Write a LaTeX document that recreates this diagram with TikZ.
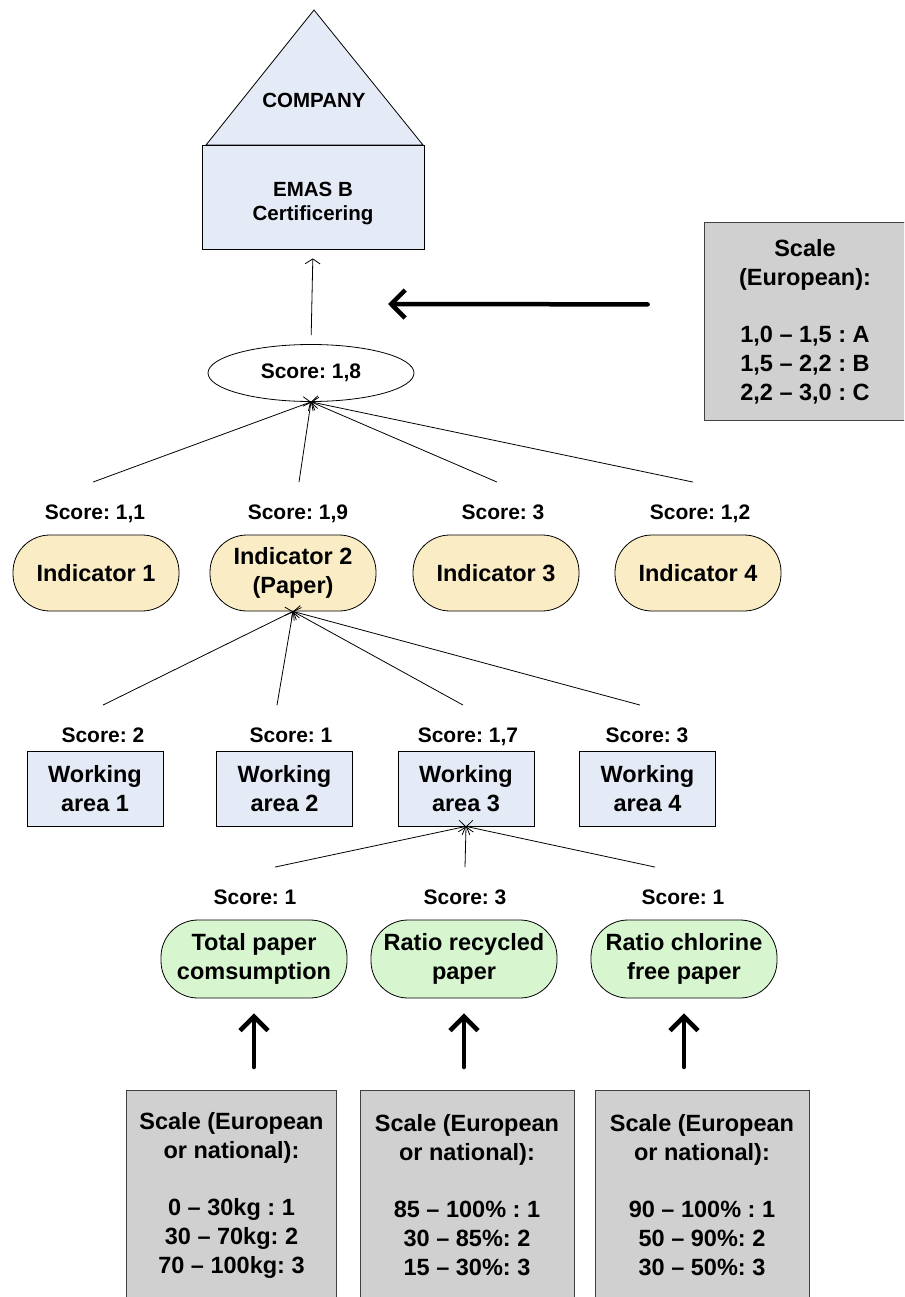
\documentclass[tikz,border=0pt]{standalone}
\usepackage{fontspec}
\setmainfont{Liberation Sans}
\frenchspacing
\usetikzlibrary{arrows.meta, shapes.geometric, positioning}
\definecolor{areablue}{RGB}{228,234,246}
\definecolor{indyellow}{RGB}{250,237,197}
\definecolor{subgreen}{RGB}{215,246,208}
\definecolor{scalegray}{RGB}{208,208,208}
\tikzset{
    score/.style={font=\bfseries\fontsize{21}{24}\selectfont, inner sep=0pt, text height=15pt, text depth=4.5pt},
    body/.style={font=\bfseries\fontsize{23.5}{29}\selectfont, align=center, inner sep=0pt},
    pill/.style={body, rectangle, draw, line width=0.8pt, rounded corners=37pt},
    indicator/.style={pill, fill=indyellow, minimum width=166pt, minimum height=76pt},
    subind/.style={pill, fill=subgreen, minimum width=186pt, minimum height=78pt},
    area/.style={body, rectangle, draw, line width=0.8pt, fill=areablue, minimum width=136pt, minimum height=75pt},
    scalebox/.style={body, rectangle, draw=black!75, line width=0.8pt, fill=scalegray, anchor=north},
    feed/.style={-{Straight Barb[length=5pt,width=15pt]}, line width=0.8pt},
    bigarrow/.style={-{Straight Barb[length=14pt,width=28pt]}, line width=4.5pt, line cap=round, line join=round}
  }

\begin{document}
\begin{tikzpicture}[x=1pt, y=-1pt]
    \useasboundingbox (0,0) rectangle (904,1297);
    \clip (0,0) rectangle (904,1297);
    % company house
    \filldraw[fill=areablue, line width=0.8pt] (206,145) -- (314,10) -- (423,145) -- cycle;
    \node (company) [font=\bfseries\fontsize{20.5}{24}\selectfont] at (314,100) {COMPANY};
    \node (emas) [area, minimum width=222pt, minimum height=104pt, font=\bfseries\fontsize{20.5}{24}\selectfont] at (313,197)
        {\rule{0pt}{28pt}EMAS B\\Certificering};
    \node (total) [score, ellipse, draw, line width=0.8pt, minimum width=206pt, minimum height=57pt] at (311,373) {Score: 1,8};
    \draw[feed, shorten <=9pt, shorten >=9pt] (total.north) -- (emas.south);
    % european scale
    \node (europe) [scalebox, minimum width=202pt, minimum height=198pt] at (805,222)
        {Scale\\(European):\\[28pt]1,0 – 1,5 : A\\1,5 – 2,2 : B\\2,2 – 3,0 : C};
    \coordinate (tip) at (388,304);
    \draw[bigarrow] ([xshift=-56pt, yshift=17pt]europe.west) -- (tip);
    % indicators
    \node (s1) [score] at (95,514) {Score: 1,1};
    \node (s2) [score] at (298,514) {Score: 1,9};
    \node (s3) [score] at (503,514) {Score: 3};
    \node (s4) [score] at (700,514) {Score: 1,2};
    \node (ind1) [indicator] at (96,573) {Indicator 1};
    \node (ind2) [indicator] at (293,573) {Indicator 2\\(Paper)};
    \node (ind3) [indicator] at (496,573) {Indicator 3};
    \node (ind4) [indicator] at (698,573) {Indicator 4};
    \foreach \n/\dx in {1/-2, 2/1, 3/-6, 4/-7}
        \draw[feed] ([xshift=\dx pt, yshift=22pt]s\n.north) -- (total.south);
    % working areas
    \node (a1) [score] at (103,737) {Score: 2};
    \node (a2) [score] at (291,737) {Score: 1};
    \node (a3) [score] at (468,737) {Score: 1,7};
    \node (a4) [score] at (647,737) {Score: 3};
    \node (wa1) [area] at (95,788.5) {Working\\area 1};
    \node (wa2) [area] at (284.5,788.5) {Working\\area 2};
    \node (wa3) [area] at (466,788.5) {Working\\area 3};
    \node (wa4) [area] at (647.5,788.5) {Working\\area 4};
    \foreach \n/\dx in {1/0, 2/-14, 3/-5, 4/-7}
        \draw[feed] ([xshift=\dx pt, yshift=22pt]a\n.north) -- (ind2.south);
    % sub indicators
    \node (b1) [score] at (255,899) {Score: 1};
    \node (b2) [score] at (465,899) {Score: 3};
    \node (b3) [score] at (683,899) {Score: 1};
    \node (p1) [subind] at (254,959) {Total paper\\comsumption};
    \node (p2) [subind] at (464,959) {Ratio recycled\\paper};
    \node (p3) [subind] at (684,959) {Ratio chlorine\\free paper};
    \foreach \n/\dx in {1/20, 2/0, 3/-28}
        \draw[feed] ([xshift=\dx pt, yshift=22pt]b\n.north) -- (wa3.south);
    % national scales
    \node (sc1) [scalebox, minimum width=210pt, minimum height=210pt] at (231.5,1090)
        {Scale (European\\or national):\\[28pt]0 – 30kg : 1\\30 – 70kg: 2\\70 – 100kg: 3};
    \node (sc2) [scalebox, minimum width=214pt, minimum height=210pt] at (467,1090)
        {Scale (European\\or national):\\[28pt]85 – 100\% : 1\\30 – 85\%: 2\\15 – 30\%: 3};
    \node (sc3) [scalebox, minimum width=214pt, minimum height=210pt] at (702,1090)
        {Scale (European\\or national):\\[28pt]90 – 100\% : 1\\50 – 90\%: 2\\30 – 50\%: 3};
    \foreach \n in {1,2,3}
        \draw[bigarrow, shorten <=23pt, shorten >=15pt] (p\n.south |- sc\n.north) -- (p\n.south);
\end{tikzpicture}
\end{document}
